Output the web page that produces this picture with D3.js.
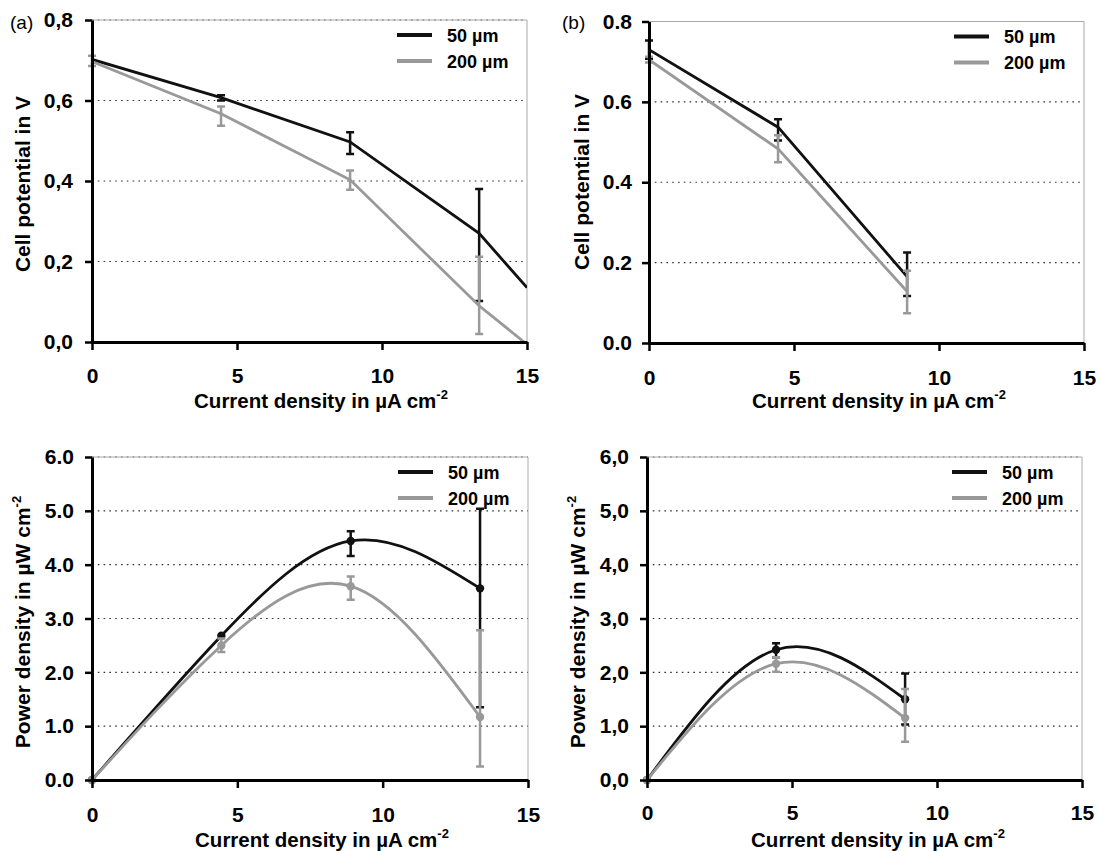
<!DOCTYPE html>
<html>
<head>
<meta charset="utf-8">
<script src="https://cdn.jsdelivr.net/npm/d3@7"></script>
<style>
  body { margin: 0; background: #fff; }
  svg { font-family: "Liberation Sans", Arial, sans-serif; }
</style>
</head>
<body>
<div id="chart"></div>
<script>
// x values (current density, µA cm-2)
const xTicks = [0, 5, 10, 15];
const seriesNames = ["50 µm", "200 µm"];

// (a) cell potential, left cell
const aX50 = [0, 4.45, 8.9, 13.35, 15];
const aY50 = [0.702, 0.607, 0.497, 0.270, 0.135];
const aHi50 = [null, 0.613, 0.521, 0.380, null];
const aLo50 = [null, 0.600, 0.467, 0.102, null];
const aX200 = [0, 4.45, 8.9, 13.35, 14.9];
const aY200 = [0.697, 0.567, 0.403, 0.090, 0.0];
const aHi200 = [0.711, 0.585, 0.426, 0.212, null];
const aLo200 = [0.686, 0.537, 0.378, 0.020, null];

// (b) cell potential, right cell
const bX = [0, 4.45, 8.9];
const bY50 = [0.730, 0.537, 0.165];
const bHi50 = [0.753, 0.557, 0.225];
const bLo50 = [0.707, 0.504, 0.117];
const bY200 = [0.705, 0.483, 0.128];
const bHi200 = [0.712, 0.517, 0.180];
const bLo200 = [0.698, 0.450, 0.074];

// (c) power density, left cell
const cX = [0, 4.45, 8.9, 13.35];
const cY50 = [0, 2.68, 4.44, 3.56];
const cHi50 = [null, null, 4.62, 5.04];
const cLo50 = [null, null, 4.16, 1.35];
const cY200 = [0, 2.50, 3.60, 1.17];
const cHi200 = [null, 2.63, 3.78, 2.78];
const cLo200 = [null, 2.38, 3.35, 0.25];

// (d) power density, right cell
const dX = [0, 4.45, 8.9];
const dY50 = [0, 2.42, 1.50];
const dHi50 = [null, 2.54, 1.98];
const dLo50 = [null, 2.28, 1.03];
const dY200 = [0, 2.16, 1.15];
const dHi200 = [null, 2.28, 1.69];
const dLo200 = [null, 2.01, 0.71];

const potTicks = [0, 0.2, 0.4, 0.6, 0.8];
const powTicks = [0, 1, 2, 3, 4, 5, 6];

const colors = ["#111", "#999"];

const svg = d3.select("#chart").append("svg")
  .attr("width", 1099)
  .attr("height", 851);

function rows(xs, ys, his, los) {
  return xs.map((x, i) => ({ x: x, y: ys[i], hi: his[i], lo: los[i] }));
}

function drawPanel(p) {
  const x = d3.scaleLinear().domain([0, 15]).range([p.left, p.right]);
  const y = d3.scaleLinear().domain([0, p.yMax]).range([p.bottom, p.top]);
  const g = svg.append("g");

  // clip for data lines
  g.append("clipPath").attr("id", p.id + "-clip")
    .append("rect")
      .attr("x", p.left).attr("y", p.top - 5)
      .attr("width", p.right - p.left).attr("height", p.bottom - p.top + 5);

  // grid lines (dotted)
  g.selectAll(".grid").data(p.yTicks.filter(d => d > 0)).enter()
    .append("line")
      .attr("x1", p.left).attr("x2", p.right)
      .attr("y1", d => y(d)).attr("y2", d => y(d))
      .attr("stroke", "#333")
      .attr("stroke-width", 1.2)
      .attr("stroke-dasharray", "1.6,4.2");

  // frame top/right
  g.append("path")
    .attr("d", `M${p.left},${p.top}H${p.right}V${p.bottom}`)
    .attr("fill", "none")
    .attr("stroke", "#aaa")
    .attr("stroke-width", 1);

  const line = d3.line()
    .x(d => x(d.x))
    .y(d => y(d.y))
    .curve(p.curve);

  p.series.forEach((s, i) => {
    const sg = g.append("g");
    sg.append("path")
      .datum(s)
      .attr("d", line)
      .attr("fill", "none")
      .attr("stroke", colors[i])
      .attr("stroke-width", 2.8)
      .attr("clip-path", `url(#${p.id}-clip)`);

    const eb = s.filter(d => d.hi !== null);
    sg.selectAll(".eb").data(eb).enter().append("path")
      .attr("d", d => {
        const cx = x(d.x);
        return `M${cx},${y(d.hi)}V${y(d.lo)}M${cx - 4},${y(d.hi)}H${cx + 4}M${cx - 4},${y(d.lo)}H${cx + 4}`;
      })
      .attr("fill", "none")
      .attr("stroke", colors[i])
      .attr("stroke-width", 2.5);

    if (p.markers) {
      sg.selectAll(".pt").data(s).enter().append("circle")
        .attr("cx", d => x(d.x))
        .attr("cy", d => y(d.y))
        .attr("r", 4.2)
        .attr("fill", colors[i]);
    }
  });

  // axes
  const fmt = v => d3.format(".1f")(v).replace(".", p.decimal);
  const yAxis = g.append("g")
    .attr("transform", `translate(${p.left},0)`)
    .call(d3.axisLeft(y).tickValues(p.yTicks).tickFormat(fmt)
      .tickSize(7).tickSizeOuter(0).tickPadding(p.yPad));
  const xAxis = g.append("g")
    .attr("transform", `translate(0,${p.bottom})`)
    .call(d3.axisBottom(x).tickValues(xTicks).tickFormat(d3.format("d"))
      .tickSize(8).tickSizeOuter(0).tickPadding(p.xPad));
  [yAxis, xAxis].forEach(ax => {
    ax.select(".domain").attr("stroke", "#000").attr("stroke-width", 3);
    ax.selectAll(".tick line").attr("stroke", "#000").attr("stroke-width", 2.5);
    ax.selectAll(".tick text")
      .attr("fill", "#000")
      .style("font-size", "21px")
      .style("font-weight", "bold")
      .style("font-family", '"Liberation Sans", Arial, sans-serif');
  });

  // axis titles
  const xt = g.append("text")
    .attr("x", p.xTitleX).attr("y", p.xTitleY)
    .attr("text-anchor", "middle")
    .style("font-size", "20.5px").style("font-weight", "bold");
  xt.append("tspan").text("Current density in µA cm");
  xt.append("tspan").attr("dy", -9).style("font-size", "13px").text("-2");

  const yt = g.append("text")
    .attr("transform", `translate(${p.yTitleX},${p.yTitleY}) rotate(-90)`)
    .attr("text-anchor", "middle")
    .style("font-size", "21px").style("font-weight", "bold");
  yt.append("tspan").text(p.yTitle);
  if (p.yTitleSup) {
    yt.append("tspan").attr("dy", -9).style("font-size", "13px").text(p.yTitleSup);
  }

  // legend
  seriesNames.forEach((name, i) => {
    const ly = p.top + 15 + i * 26;
    g.append("line")
      .attr("x1", p.right - 130).attr("x2", p.right - 95)
      .attr("y1", ly).attr("y2", ly)
      .attr("stroke", colors[i]).attr("stroke-width", 4);
    g.append("text")
      .attr("x", p.right - 80).attr("y", ly + 6.5)
      .style("font-size", "18px").style("font-weight", "bold")
      .text(name);
  });

  if (p.label) {
    svg.append("text")
      .attr("x", p.labelX).attr("y", 29)
      .style("font-size", "19px")
      .text(p.label);
  }
}

drawPanel({
  id: "pa", left: 92, right: 527, top: 20, bottom: 342,
  yMax: 0.8, yTicks: potTicks, decimal: ",", yPad: 12, xPad: 18,
  curve: d3.curveLinear, markers: false,
  series: [rows(aX50, aY50, aHi50, aLo50), rows(aX200, aY200, aHi200, aLo200)],
  xTitleX: 321, xTitleY: 408, yTitleX: 30, yTitleY: 184,
  yTitle: "Cell potential in V", label: "(a)", labelX: 10
});

drawPanel({
  id: "pb", left: 649, right: 1084, top: 21.5, bottom: 343,
  yMax: 0.8, yTicks: potTicks, decimal: ".", yPad: 10, xPad: 19,
  curve: d3.curveLinear, markers: false,
  series: [rows(bX, bY50, bHi50, bLo50), rows(bX, bY200, bHi200, bLo200)],
  xTitleX: 879, xTitleY: 408, yTitleX: 589, yTitleY: 182,
  yTitle: "Cell potential in V", label: "(b)", labelX: 562
});

drawPanel({
  id: "pc", left: 92, right: 528, top: 457, bottom: 780,
  yMax: 6, yTicks: powTicks, decimal: ".", yPad: 11, xPad: 19,
  curve: d3.curveNatural, markers: true,
  series: [rows(cX, cY50, cHi50, cLo50), rows(cX, cY200, cHi200, cLo200)],
  xTitleX: 322, xTitleY: 847, yTitleX: 30, yTitleY: 622,
  yTitle: "Power density in µW cm", yTitleSup: "-2"
});

drawPanel({
  id: "pd", left: 647, right: 1082, top: 457, bottom: 780,
  yMax: 6, yTicks: powTicks, decimal: ",", yPad: 11, xPad: 17,
  curve: d3.curveNatural, markers: true,
  series: [rows(dX, dY50, dHi50, dLo50), rows(dX, dY200, dHi200, dLo200)],
  xTitleX: 878, xTitleY: 847, yTitleX: 585, yTitleY: 622,
  yTitle: "Power density in µW cm", yTitleSup: "-2"
});
</script>
</body>
</html>
